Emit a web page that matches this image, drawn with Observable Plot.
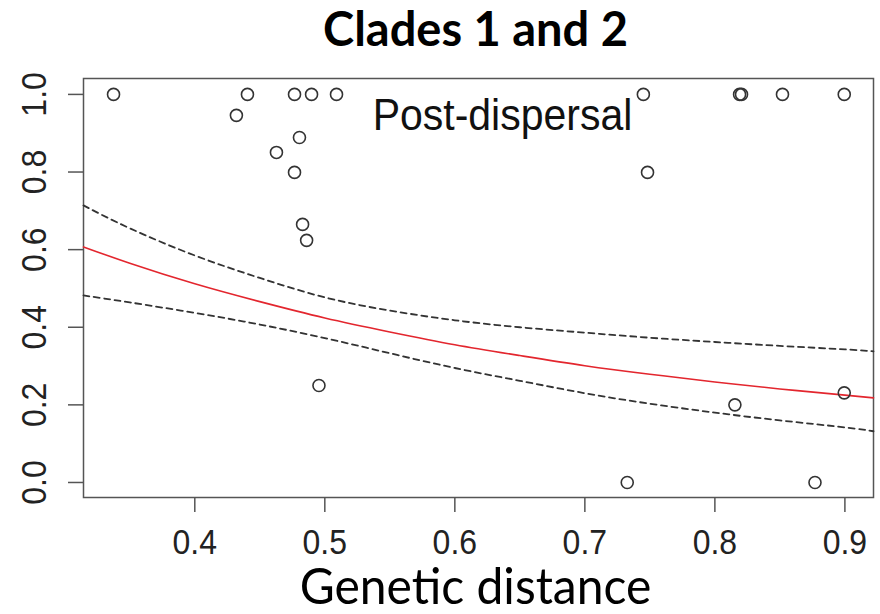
<!DOCTYPE html>
<html>
<head>
<meta charset="utf-8">
<script src="https://cdn.jsdelivr.net/npm/d3@7"></script>
<script src="https://cdn.jsdelivr.net/npm/@observablehq/plot@0.6"></script>
<style>
  html, body { margin: 0; padding: 0; background: #fff; }
  #chart svg { display: block; }
</style>
</head>
<body>
<div id="chart"></div>
<script>
// Observed points (genetic distance vs. response)
const distX = [0.3375, 0.432, 0.4405, 0.4628, 0.4767, 0.4767, 0.4805, 0.4898, 0.509, 0.4829, 0.486, 0.4955,
               0.745, 0.7482, 0.7326, 0.8154, 0.819, 0.8205, 0.852, 0.8995, 0.8995, 0.877];
const respY = [1, 0.946, 1, 0.8505, 1, 0.799, 0.889, 1, 1, 0.665, 0.624, 0.25,
               1, 0.799, 0, 0.2, 1, 1, 1, 1, 0.231, 0];

// Fitted curve and confidence band
const curveX = [0.3144, 0.35, 0.4, 0.45, 0.5, 0.55, 0.6, 0.65, 0.7, 0.75, 0.8, 0.85, 0.9, 0.922];
const fitY   = [0.607, 0.565, 0.512, 0.466, 0.424, 0.388, 0.355, 0.327, 0.301, 0.279, 0.259, 0.241, 0.225, 0.218];
const upperY = [0.714, 0.655, 0.585, 0.527, 0.477, 0.443, 0.418, 0.400, 0.386, 0.373, 0.362, 0.352, 0.343, 0.338];
const lowerY = [0.482, 0.464, 0.437, 0.407, 0.372, 0.333, 0.295, 0.262, 0.230, 0.203, 0.180, 0.160, 0.142, 0.132];

const xTicks = [0.4, 0.5, 0.6, 0.7, 0.8, 0.9];
const yTicks = [0.0, 0.2, 0.4, 0.6, 0.8, 1.0];

const titleText = "Clades 1 and 2";
const xLabel = "Genetic distance";
const annotation = "Post-dispersal";

const points = distX.map((x, i) => ({x, y: respY[i]}));
const fit = curveX.map((x, i) => ({x, y: fitY[i]}));
const upper = curveX.map((x, i) => ({x, y: upperY[i]}));
const lower = curveX.map((x, i) => ({x, y: lowerY[i]}));

const tickFont = "'Liberation Sans', Arial, Helvetica, sans-serif";
const calibriLike = "Lato, 'Open Sans', sans-serif";

const chart = Plot.plot({
  width: 880,
  height: 614,
  marginLeft: 83,
  marginRight: 7,
  marginTop: 78,
  marginBottom: 117,
  style: {background: "#fff", color: "#222", fontFamily: tickFont},
  x: {domain: [0.3144, 0.922], label: null},
  y: {domain: [-0.0387, 1.041], label: null},
  marks: [
    Plot.frame({stroke: "#555", strokeWidth: 1.5}),
    Plot.axisX(xTicks, {tickSize: 15, tickPadding: 16, fontSize: 32, stroke: "#555", strokeWidth: 1.5,
                        tickFormat: d => d.toFixed(1), fill: "#222"}),
    Plot.axisY(yTicks, {tickSize: 15, tickFormat: () => "", stroke: "#555", strokeWidth: 1.5}),
    Plot.text(yTicks, {y: d => d, text: d => d.toFixed(1), frameAnchor: "left", dx: -49,
                       rotate: -90, textAnchor: "middle", lineAnchor: "middle", fontSize: 32, fill: "#222"}),
    Plot.line(upper, {x: "x", y: "y", stroke: "#333", strokeWidth: 1.8, strokeDasharray: "6,4.5", curve: "natural"}),
    Plot.line(lower, {x: "x", y: "y", stroke: "#333", strokeWidth: 1.8, strokeDasharray: "6,4.5", curve: "natural"}),
    Plot.line(fit, {x: "x", y: "y", stroke: "#e3262e", strokeWidth: 1.6, curve: "natural"}),
    Plot.dot(points, {x: "x", y: "y", r: 6, stroke: "#333", strokeWidth: 1.6, fill: "none"}),
    Plot.text([annotation], {frameAnchor: "top", dx: 24, dy: 51, lineAnchor: "bottom",
                             fontSize: 41, fill: "#111", fontFamily: tickFont}),
    Plot.text([titleText], {frameAnchor: "top", dx: -3, dy: -33, lineAnchor: "bottom",
                            fontSize: 47, fontWeight: "bold", fill: "#000", fontFamily: calibriLike}),
    Plot.text([xLabel], {frameAnchor: "bottom", dx: -3, dy: 106, lineAnchor: "bottom",
                         fontSize: 48, fill: "#000", fontFamily: calibriLike})
  ]
});
document.getElementById("chart").appendChild(chart);

// The reference's lettering is vertically stretched; mimic that on the text glyphs.
const stretch = (sel, k) => sel.each(function() {
  const t = this.getAttribute("transform") || "";
  this.setAttribute("transform", t + ` scale(1,${k})`);
});
const svg = d3.select(chart);
stretch(svg.selectAll("text").filter(function() { return /^\d\.\d$/.test(this.textContent); }), 1.12);
stretch(svg.selectAll("text").filter(function() { return this.textContent === xLabel; }), 1.05);
stretch(svg.selectAll("text").filter(function() { return this.textContent === annotation; }), 1.08);
</script>
</body>
</html>
